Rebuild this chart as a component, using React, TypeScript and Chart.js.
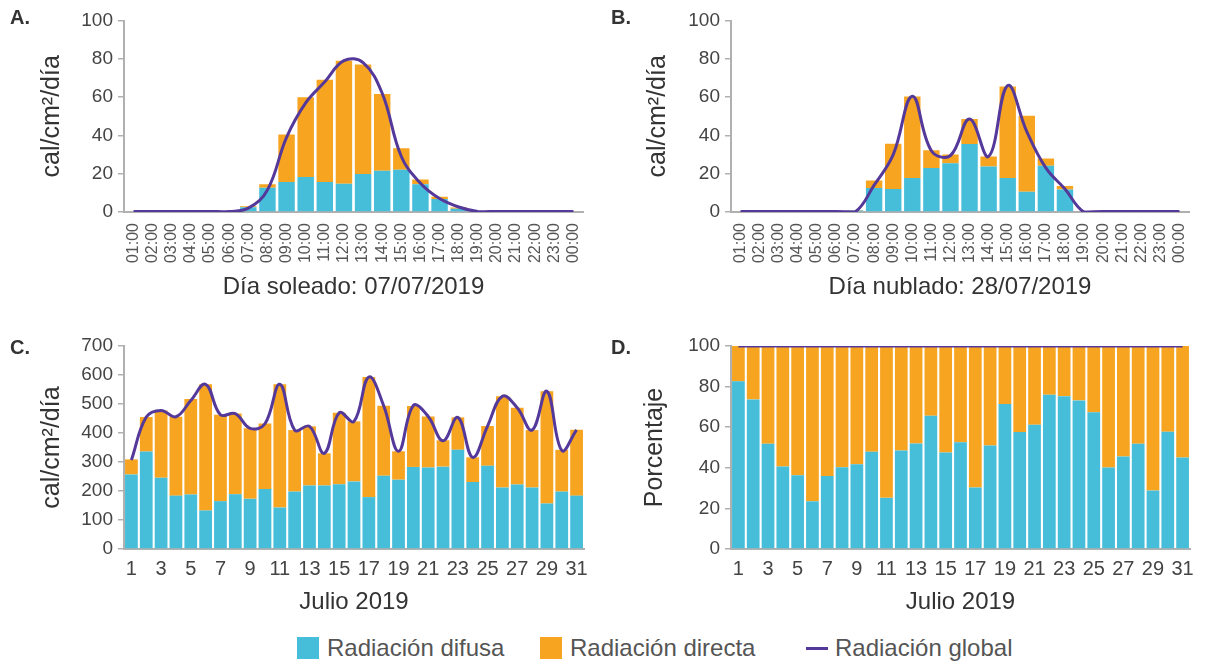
import React, { useEffect, useRef } from 'react';
import { Chart, registerables } from 'chart.js';

Chart.register(...registerables);

// ---------- DATA ----------
const HOURS = ['01:00','02:00','03:00','04:00','05:00','06:00','07:00','08:00','09:00','10:00','11:00','12:00','13:00','14:00','15:00','16:00','17:00','18:00','19:00','20:00','21:00','22:00','23:00','00:00'];

// A. Día soleado 07/07/2019
const DIFUSA_A = [0,0,0,0,0,0,2.5,12.6,15.7,18.3,15.7,14.7,19.9,21.5,22,14.5,6.8,1.7,0,0,0,0,0,0];
const DIRECTA_A = [0,0,0,0,0,0,0.5,1.9,24.8,41.6,53.3,64.3,57.1,40.1,11.3,2.5,1.2,0.6,0,0,0,0,0,0];
const GLOBAL_A = [0.3,0.3,0.3,0.3,0.3,0.3,2,11.5,39,57,68,79,78,62,29,15,7,2.6,0.3,0.3,0.3,0.3,0.3,0.3];

// B. Día nublado 28/07/2019
const DIFUSA_B = [0,0,0,0,0,0,0.8,12.5,12,17.7,23,25.4,35.5,23.7,17.7,10.6,24.2,11.8,0,0,0,0,0,0];
const DIRECTA_B = [0,0,0,0,0,0,0.2,4,23.7,42.6,9.3,4.6,13,5.3,47.9,39.7,3.8,1.8,0,0,0,0,0,0];
const GLOBAL_B = [0.3,0.3,0.3,0.3,0.3,0.3,0,14,30,60.5,32,29.5,48.5,29,66,42,23,12,0,0.3,0.3,0.3,0.3,0.3];

// C. Julio 2019 (cal/cm2/día)
const DAYS = ['1','2','3','4','5','6','7','8','9','10','11','12','13','14','15','16','17','18','19','20','21','22','23','24','25','26','27','28','29','30','31'];
const DIFUSA_C = [257,336,246,184,188,133,165,189,173,207,143,198,219,219,223,233,179,253,239,283,281,284,342,231,287,212,222,212,157,198,184];
const DIRECTA_C = [52,119,232,272,329,435,298,278,243,226,425,212,204,111,247,207,414,241,98,210,176,91,112,85,137,315,265,198,387,144,227];
const GLOBAL_C = [307,455,478,456,512,568,463,467,416,432,568,410,423,330,470,440,593,494,337,495,457,373,454,316,424,527,487,410,544,340,411];

// D. Julio 2019 (Porcentaje)
const DIFUSA_D = [82.6,73.7,51.8,40.6,36.3,23.5,35.9,40.3,41.8,47.9,25.2,48.5,52,65.6,47.5,52.6,30.3,51,71.4,57.6,61.2,76,75.3,73.2,67.4,40.1,45.6,51.8,28.8,57.7,45.1];
const DIRECTA_D = [17.4,26.3,48.2,59.4,63.7,76.5,64.1,59.7,58.2,52.1,74.8,51.5,48,34.4,52.5,47.4,69.7,49,28.6,42.4,38.8,24,24.7,26.8,32.6,59.9,54.4,48.2,71.2,42.3,54.9];
const GLOBAL_D = [100,100,100,100,100,100,100,100,100,100,100,100,100,100,100,100,100,100,100,100,100,100,100,100,100,100,100,100,100,100,100];

const CYAN = '#47BED9';
const ORANGE = '#F7A520';
const PURPLE = '#54389A';
const FONT = '"Liberation Sans", Arial, Helvetica, sans-serif';

Chart.defaults.font.family = FONT;

type PanelSpec = {
  labels: string[];
  diff: number[];
  direct: number[];
  global: number[];
  yMax: number;
  yStep: number;
  yTitle: string;
  xTitle: string;
  hourly: boolean;
  yWidth: number;
  xHeight: number;
  padTop: number;
  padRight: number;
  yTitleCenter: number;
};

function buildConfig(p: PanelSpec): any {
  return {
    type: 'bar',
    data: {
      labels: p.labels,
      datasets: [
        {
          type: 'line',
          label: 'Radiación global',
          data: p.global,
          borderColor: PURPLE,
          borderWidth: 3,
          pointRadius: 0,
          tension: 0.4,
          fill: false,
          stack: 'global',
          order: 0,
        },
        {
          type: 'bar',
          label: 'Radiación difusa',
          data: p.diff,
          backgroundColor: CYAN,
          stack: 'bars',
          order: 1,
          barPercentage: 0.86,
          categoryPercentage: 1,
        },
        {
          type: 'bar',
          label: 'Radiación directa',
          data: p.direct,
          backgroundColor: ORANGE,
          stack: 'bars',
          order: 2,
          barPercentage: 0.86,
          categoryPercentage: 1,
        },
      ],
    },
    options: {
      responsive: false,
      animation: false,
      events: [],
      layout: { padding: { top: p.padTop, right: p.padRight, left: 0, bottom: 0 } },
      plugins: { legend: { display: false }, tooltip: { enabled: false } },
      scales: {
        x: {
          stacked: true,
          grid: { display: false },
          border: { display: true, color: '#b0b0b0', width: 2 },
          ticks: p.hourly
            ? {
                autoSkip: false,
                maxRotation: 90,
                minRotation: 90,
                padding: 3,
                color: '#555',
                font: { size: 16 },
              }
            : {
                autoSkip: false,
                maxRotation: 0,
                minRotation: 0,
                padding: 0,
                color: '#444',
                font: { size: 20 },
                callback: (_v: any, i: number) => (i % 2 === 0 ? p.labels[i] : ''),
              },
          title: {
            display: true,
            text: p.xTitle,
            color: '#333',
            font: { size: 24 },
            padding: { top: 0, bottom: 4 },
          },
          afterFit: (s: any) => {
            s.height = p.xHeight;
          },
        },
        y: {
          stacked: true,
          min: 0,
          max: p.yMax,
          grid: { drawOnChartArea: false, drawTicks: true, tickLength: 6, color: '#b0b0b0', lineWidth: 1.5 },
          border: { display: true, color: '#b0b0b0', width: 2 },
          ticks: { stepSize: p.yStep, padding: 5, color: '#444', font: { size: 19 } },
          title: {
            display: true,
            text: p.yTitle,
            color: '#333',
            font: { size: 25 },
            padding: { top: p.yTitleCenter - 15, bottom: 0 },
          },
          afterFit: (s: any) => {
            s.width = p.yWidth;
          },
        },
      },
    },
  };
}

function Panel(props: { left: number; top: number; width: number; height: number; spec: PanelSpec }) {
  const ref = useRef<HTMLCanvasElement | null>(null);
  useEffect(() => {
    if (!ref.current) return;
    const chart = new Chart(ref.current, buildConfig(props.spec));
    return () => chart.destroy();
  }, []);
  return (
    <div style={{ position: 'absolute', left: props.left, top: props.top, width: props.width, height: props.height }}>
      <canvas ref={ref} width={props.width} height={props.height} style={{ display: 'block' }} />
    </div>
  );
}

const letterStyle = (left: number, top: number): React.CSSProperties => ({
  position: 'absolute',
  left,
  top,
  fontFamily: FONT,
  fontWeight: 'bold',
  fontSize: 20,
  lineHeight: '20px',
  color: '#333',
});

const legendText = (left: number): React.CSSProperties => ({
  position: 'absolute',
  left,
  top: 634,
  fontFamily: FONT,
  fontSize: 24,
  lineHeight: '28px',
  color: '#555',
  whiteSpace: 'nowrap',
});

export default function App() {
  const yLabel = 'cal/cm²/día';
  return (
    <div style={{ position: 'fixed', left: 0, top: 0, width: 1214, height: 665, background: '#fff', overflow: 'hidden' }}>
      <Panel
        left={0}
        top={0}
        width={600}
        height={306}
        spec={{
          labels: HOURS, diff: DIFUSA_A, direct: DIRECTA_A, global: GLOBAL_A,
          yMax: 100, yStep: 20, yTitle: yLabel, xTitle: 'Día soleado: 07/07/2019', hourly: true,
          yWidth: 124, xHeight: 94, padTop: 20.5, padRight: 17, yTitleCenter: 52,
        }}
      />
      <Panel
        left={600}
        top={0}
        width={614}
        height={306}
        spec={{
          labels: HOURS, diff: DIFUSA_B, direct: DIRECTA_B, global: GLOBAL_B,
          yMax: 100, yStep: 20, yTitle: yLabel, xTitle: 'Día nublado: 28/07/2019', hourly: true,
          yWidth: 131, xHeight: 94, padTop: 20.5, padRight: 25, yTitleCenter: 58,
        }}
      />
      <Panel
        left={0}
        top={320}
        width={600}
        height={301}
        spec={{
          labels: DAYS, diff: DIFUSA_C, direct: DIRECTA_C, global: GLOBAL_C,
          yMax: 700, yStep: 100, yTitle: yLabel, xTitle: 'Julio 2019', hourly: false,
          yWidth: 124, xHeight: 72, padTop: 26, padRight: 16, yTitleCenter: 52,
        }}
      />
      <Panel
        left={600}
        top={320}
        width={614}
        height={301}
        spec={{
          labels: DAYS, diff: DIFUSA_D, direct: DIRECTA_D, global: GLOBAL_D,
          yMax: 100, yStep: 20, yTitle: 'Porcentaje', xTitle: 'Julio 2019', hourly: false,
          yWidth: 131, xHeight: 72, padTop: 26, padRight: 24, yTitleCenter: 55,
        }}
      />
      <div style={letterStyle(10, 7)}>A.</div>
      <div style={letterStyle(611, 7)}>B.</div>
      <div style={letterStyle(10, 337)}>C.</div>
      <div style={letterStyle(611, 337)}>D.</div>

      <div style={{ position: 'absolute', left: 297, top: 637, width: 22, height: 22, background: CYAN }} />
      <div style={legendText(327)}>Radiación difusa</div>
      <div style={{ position: 'absolute', left: 540, top: 637, width: 22, height: 22, background: ORANGE }} />
      <div style={legendText(570)}>Radiación directa</div>
      <div style={{ position: 'absolute', left: 806, top: 647, width: 22, height: 3, background: PURPLE }} />
      <div style={legendText(835)}>Radiación global</div>
    </div>
  );
}
